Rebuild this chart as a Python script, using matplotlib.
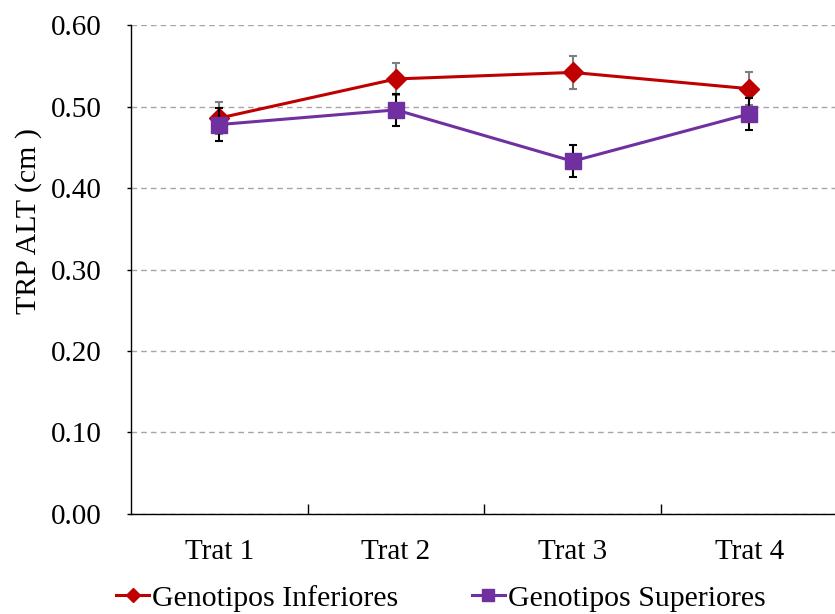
import matplotlib.pyplot as plt
import numpy as np

plt.rcParams['font.family'] = ['Liberation Serif', 'DejaVu Serif']

# data
tratamientos = ['Trat 1', 'Trat 2', 'Trat 3', 'Trat 4']
inferiores = [0.486, 0.534, 0.542, 0.522]
inferiores_err = [0.02, 0.02, 0.02, 0.02]
superiores = [0.478, 0.496, 0.433, 0.491]
superiores_err = [0.02, 0.02, 0.02, 0.02]

x = np.arange(len(tratamientos))

fig = plt.figure(figsize=(8.35, 6.14), dpi=100)
ax = fig.add_axes([0.157, 0.163, 0.846, 0.796])

# gridlines behind everything
ax.set_axisbelow(True)
ax.yaxis.grid(True, linestyle=(0, (4, 3)), color='#a6a6a6', linewidth=1)

ax.errorbar(x, inferiores, yerr=inferiores_err, fmt='none', ecolor='#7f7f7f',
            elinewidth=1.5, capsize=3, capthick=1.5, zorder=3)
ax.plot(x, inferiores, color='#C00000', linewidth=2.2, marker='D', markersize=10,
        label='Genotipos Inferiores', zorder=4)
ax.errorbar(x, superiores, yerr=superiores_err, fmt='none', ecolor='black',
            elinewidth=1.5, capsize=3, capthick=1.5, zorder=5)
ax.plot(x, superiores, color='#7030A0', linewidth=2.2, marker='s', markersize=12,
        label='Genotipos Superiores', zorder=6)

ax.set_xlim(-0.5, 3.5)
ax.set_ylim(0, 0.6)
ax.set_yticks(np.arange(0, 0.61, 0.1))
ax.set_yticklabels([f'{v:.2f}' for v in np.arange(0, 0.61, 0.1)])
ax.set_xticks(x)
ax.set_xticklabels(tratamientos)
ax.set_xticks([0.5, 1.5, 2.5], minor=True)
ax.tick_params(axis='x', which='major', length=0, pad=18, labelsize=21)
ax.tick_params(axis='x', which='minor', direction='in', length=7, width=1)
ax.tick_params(axis='y', direction='out', length=3, width=1, labelsize=21, pad=18)

for side in ['top', 'right']:
    ax.spines[side].set_visible(False)
for side in ['left', 'bottom']:
    ax.spines[side].set_color('black')
    ax.spines[side].set_linewidth(1)

ax.set_ylabel('TRP ALT (cm )', fontsize=21.5)
ax.yaxis.set_label_coords(-0.126, 0.6)

fig.legend(loc='lower center', bbox_to_anchor=(0.528, -0.04), ncol=2, frameon=False,
           fontsize=21.5, handlelength=1.1, handletextpad=0.1, columnspacing=2.45,
           markerscale=0.75)

fig.savefig('out.png', dpi=100)
